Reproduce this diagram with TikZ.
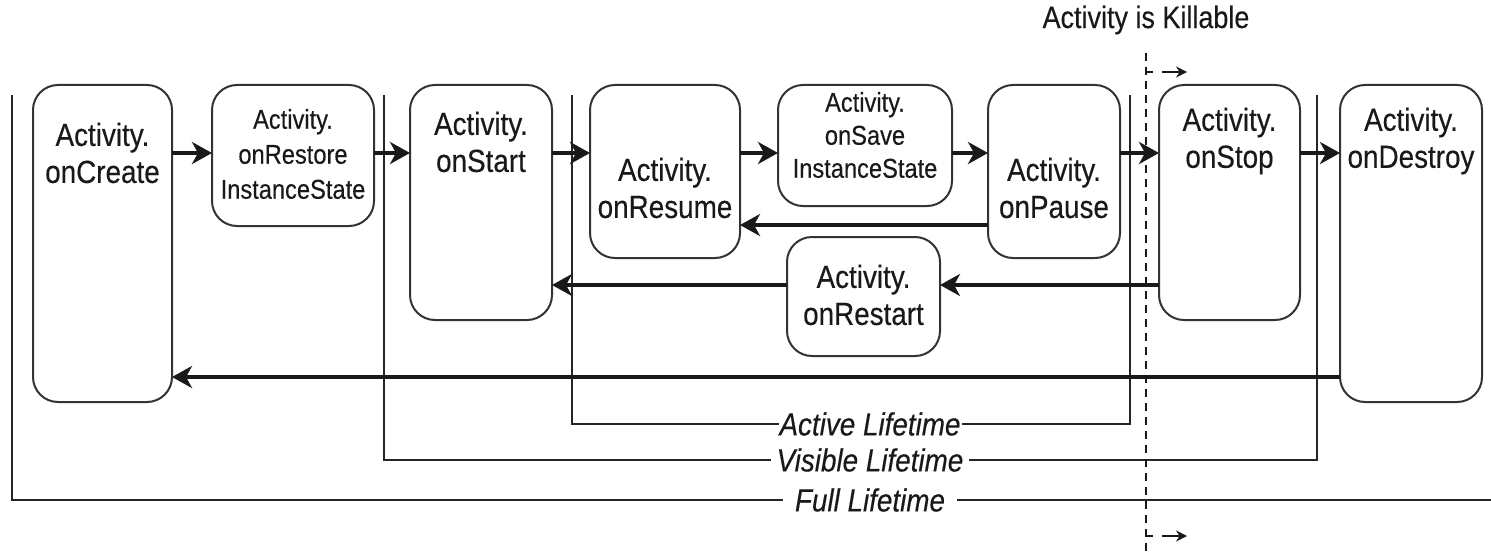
\documentclass[tikz,border=0pt]{standalone}
\usepackage{fontspec}
\setmainfont{Liberation Sans}[FakeStretch=0.87, FakeBold=0.3]
\usetikzlibrary{arrows.meta}
\begin{document}
\begin{tikzpicture}[x=0.5pt,y=-0.5pt,
  box/.style={draw=black!80, line width=1pt, rounded corners=12.5pt, inner sep=0pt, outer sep=0pt},
  big/.style={font=\fontsize{16}{18.5}\selectfont, align=center, inner sep=0pt, text=black!90},
  small/.style={font=\fontsize{13.6}{16.5}\selectfont, align=center, inner sep=0pt, text=black!90},
  flow/.style={line width=1.8pt, draw=black!90, -{Stealth[length=10pt,width=11pt,inset=3pt]}},
  life/.style={line width=0.8pt, draw=black!85},
  lbl/.style={font=\fontsize{16}{18}\selectfont\itshape, fill=white, inner ysep=1pt, text=black!90},
  kill/.style={line width=0.8pt, draw=black!90, dash pattern=on 4pt off 3pt},
  killarrow/.style={line width=0.8pt, draw=black!90, dash pattern=on 3.5pt off 4.5pt on 20pt off 0pt, -{Stealth[length=5.5pt,width=5.5pt]}}]
\useasboundingbox (0,0) rectangle (1491,556);

% level coordinates
\coordinate (yTop) at (0,153);
\coordinate (yPause) at (0,225);
\coordinate (yRestart) at (0,285);
\coordinate (yDestroy) at (0,377);

% lifetime brackets
\draw[life] (12,95) -- (12,500) -- (1491,500);
\draw[life] (384,95) -- (384,460) -- (1317,460) -- (1317,95);
\draw[life] (572,95) -- (572,424) -- (1130,424) -- (1130,95);
\node[lbl, inner xsep=0.5pt] (active) at (870,424) {Active Lifetime};
\node[lbl, inner xsep=3pt] (visible) at (870,460) {Visible Lifetime};
\node[lbl, inner xsep=6pt] (full) at (870,500) {Full Lifetime};

% killable marker
\coordinate (kTop) at (1146,53);
\coordinate (kBot) at (1146,556);
\coordinate (kA1) at (1146,72);
\coordinate (kA2) at (1187,72);
\coordinate (kB1) at (1146,536);
\coordinate (kB2) at (1187,536);
\draw[kill] (kTop) -- (kBot);
\draw[killarrow] (kA1) -- (kA2);
\draw[killarrow] (kB1) -- (kB2);
\node[font=\fontsize{15.5}{18}\selectfont, text=black!90] (killable) at (1146,20) {Activity is Killable};

% boxes
\node[box, minimum width=69.5pt, minimum height=158.5pt] (create) at (102.5,243.5) {};
\node[box, minimum width=81pt, minimum height=70.5pt] (restore) at (293,155.5) {};
\node[box, minimum width=71pt, minimum height=117.5pt] (start) at (481,202.5) {};
\node[box, minimum width=75pt, minimum height=86.5pt] (resume) at (665,171.5) {};
\node[box, minimum width=87pt, minimum height=60.5pt] (save) at (865,145.5) {};
\node[box, minimum width=66pt, minimum height=86.5pt] (pause) at (1054,171.5) {};
\node[box, minimum width=76.5pt, minimum height=59.5pt] (restart) at (863.5,296.5) {};
\node[box, minimum width=70.5pt, minimum height=117.5pt] (stop) at (1229.5,202.5) {};
\node[box, minimum width=71pt, minimum height=158.5pt] (destroy) at (1411,243.5) {};

% texts
\node[big] (tcreate) at (102.5,153) {Activity.\\onCreate};
\node[small, font=\fontsize{13.6}{17.5}\selectfont] (trestore) at (293,154) {Activity.\\onRestore\\InstanceState};
\node[big] (tstart) at (481,142) {Activity.\\onStart};
\node[big] (tresume) at (665,188) {Activity.\\onResume};
\node[small] (tsave) at (865,135) {Activity.\\onSave\\InstanceState};
\node[big] (tpause) at (1054,188) {Activity.\\onPause};
\node[big] (trestart) at (863.5,295) {Activity.\\onRestart};
\node[big] (tstop) at (1229.5,141) {Activity.\\onStop};
\node[big] (tdestroy) at (1411,141) {Activity.\\onDestroy};

% flow arrows
\draw[flow] (create.east |- yTop) -- (restore.west |- yTop);
\draw[flow] (restore.east |- yTop) -- (start.west |- yTop);
\draw[flow] (start.east |- yTop) -- (resume.west |- yTop);
\draw[flow] (resume.east |- yTop) -- (save.west |- yTop);
\draw[flow] (save.east |- yTop) -- (pause.west |- yTop);
\draw[flow] (pause.east |- yTop) -- (stop.west |- yTop);
\draw[flow] (stop.east |- yTop) -- (destroy.west |- yTop);
\draw[flow] (pause.west |- yPause) -- (resume.east |- yPause);
\draw[flow] (stop.west |- yRestart) -- (restart.east |- yRestart);
\draw[flow] (restart.west |- yRestart) -- (start.east |- yRestart);
\draw[flow] (destroy.west |- yDestroy) -- (create.east |- yDestroy);
\end{tikzpicture}
\end{document}
